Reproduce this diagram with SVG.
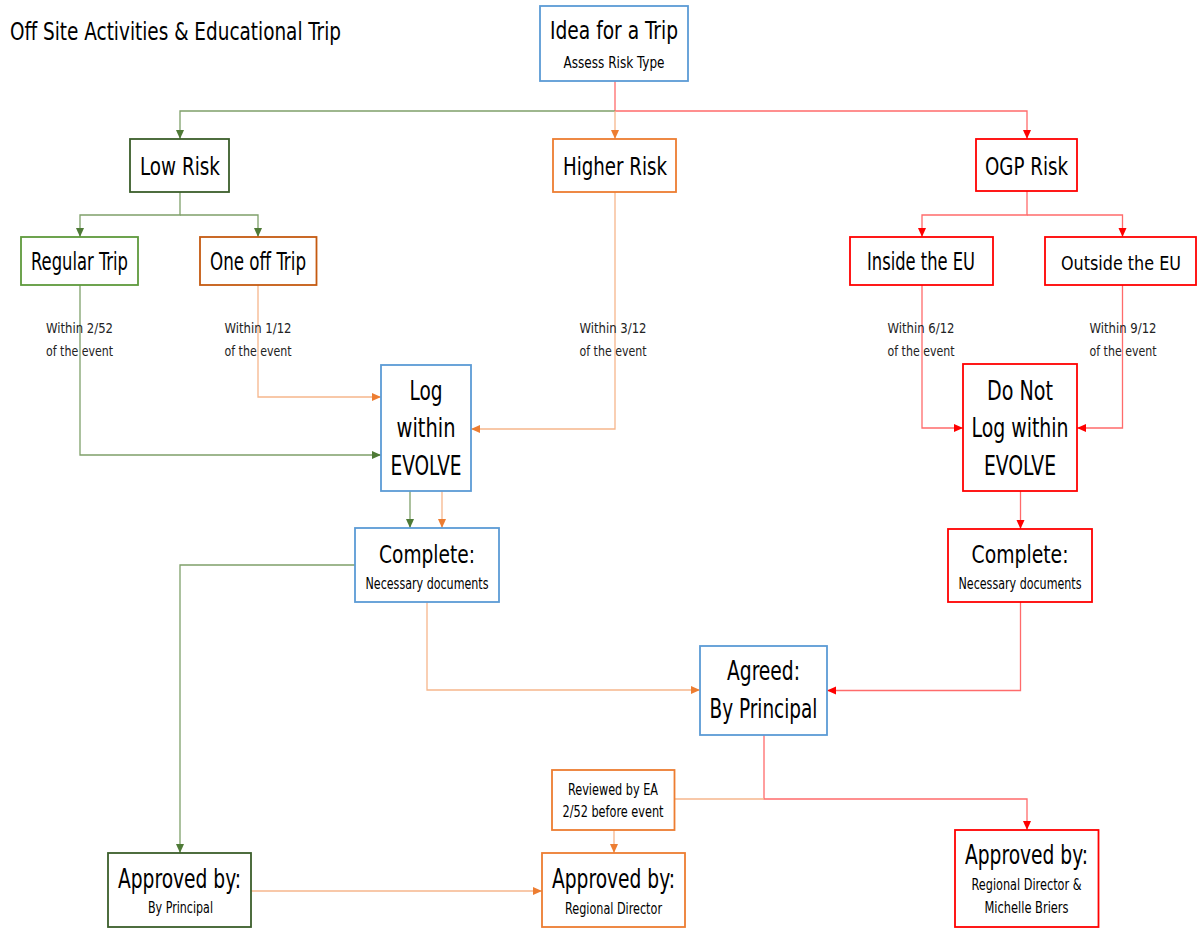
<svg xmlns="http://www.w3.org/2000/svg" width="1198" height="929" viewBox="0 0 1198 929">
<style>
text{font-family:"Liberation Sans Narrow","DejaVu Sans Condensed","Liberation Sans",sans-serif;fill:#000;text-anchor:middle}
.big{font-size:24px}
.sm{font-size:15px}
.lbl{font-size:14px;text-anchor:start;fill:#222}
rect{fill:#fff;stroke-width:1.8}
.blue{stroke:#5B9BD5}
.dg{stroke:#3B5E2B}
.g{stroke:#5E9A3C}
.o{stroke:#ED7D31}
.do{stroke:#C55A11}
.r{stroke:#FF0000}
.c{fill:none;stroke-width:1.3}
.cg{stroke:#7FA06A}
.co{stroke:#F6B68C}
.cr{stroke:#FF6B6B}
</style>
<defs>
<marker id="ag" markerWidth="10" markerHeight="10" refX="9" refY="5" orient="auto" markerUnits="userSpaceOnUse"><path d="M0,1 L9,5 L0,9 Z" fill="#4E7A36"/></marker>
<marker id="ao" markerWidth="10" markerHeight="10" refX="9" refY="5" orient="auto" markerUnits="userSpaceOnUse"><path d="M0,1 L9,5 L0,9 Z" fill="#ED7D31"/></marker>
<marker id="ar" markerWidth="10" markerHeight="10" refX="9" refY="5" orient="auto" markerUnits="userSpaceOnUse"><path d="M0,1 L9,5 L0,9 Z" fill="#FF0000"/></marker>
</defs>

<text x="10" y="40" class="big" style="text-anchor:start" textLength="331" lengthAdjust="spacingAndGlyphs">Off Site Activities &amp; Educational Trip</text>

<g id="connectors">
<path class="c cr" d="M615,81 V111 H1027 V139" marker-end="url(#ar)"/>
<path class="c cg" d="M615,111 H180 V139" marker-end="url(#ag)"/>
<path class="c co" d="M615,111 V139" marker-end="url(#ao)"/>
<path class="c cg" d="M180,192 V215 H80 V237" marker-end="url(#ag)"/>
<path class="c cg" d="M180,215 H258 V237" marker-end="url(#ag)"/>
<path class="c cr" d="M1027,191 V215 H922 V237" marker-end="url(#ar)"/>
<path class="c cr" d="M1027,215 H1122.5 V237" marker-end="url(#ar)"/>
<path class="c cg" d="M80,285 V455 H381" marker-end="url(#ag)"/>
<path class="c co" d="M258,285 V397 H381" marker-end="url(#ao)"/>
<path class="c co" d="M615,192 V429 H471" marker-end="url(#ao)"/>
<path class="c cr" d="M922,285 V428 H963" marker-end="url(#ar)"/>
<path class="c cr" d="M1122.5,285 V428 H1077" marker-end="url(#ar)"/>
<path class="c cg" d="M410,491 V528" marker-end="url(#ag)"/>
<path class="c co" d="M442,491 V528" marker-end="url(#ao)"/>
<path class="c cr" d="M1020.5,491 V529" marker-end="url(#ar)"/>
<path class="c cg" d="M355,565 H180 V853" marker-end="url(#ag)"/>
<path class="c co" d="M427,602 V690 H700" marker-end="url(#ao)"/>
<path class="c cr" d="M1020.5,602 V690.5 H827" marker-end="url(#ar)"/>
<path class="c cr" d="M764,735 V799 H1027 V830" marker-end="url(#ar)"/>
<path class="c co" d="M764,799 H674.5"/>
<path class="c co" d="M614,830 V853" marker-end="url(#ao)"/>
<path class="c co" d="M251,891 H542" marker-end="url(#ao)"/>
</g>

<g id="labels">
<text class="lbl" x="46" y="333" textLength="67" lengthAdjust="spacingAndGlyphs">Within 2/52</text>
<text class="lbl" x="46" y="356" textLength="67" lengthAdjust="spacingAndGlyphs">of the event</text>
<text class="lbl" x="224.5" y="333" textLength="67" lengthAdjust="spacingAndGlyphs">Within 1/12</text>
<text class="lbl" x="224.5" y="356" textLength="67" lengthAdjust="spacingAndGlyphs">of the event</text>
<text class="lbl" x="579.5" y="333" textLength="67" lengthAdjust="spacingAndGlyphs">Within 3/12</text>
<text class="lbl" x="579.5" y="356" textLength="67" lengthAdjust="spacingAndGlyphs">of the event</text>
<text class="lbl" x="887.5" y="333" textLength="67" lengthAdjust="spacingAndGlyphs">Within 6/12</text>
<text class="lbl" x="887.5" y="356" textLength="67" lengthAdjust="spacingAndGlyphs">of the event</text>
<text class="lbl" x="1089.5" y="333" textLength="67" lengthAdjust="spacingAndGlyphs">Within 9/12</text>
<text class="lbl" x="1089.5" y="356" textLength="67" lengthAdjust="spacingAndGlyphs">of the event</text>
</g>

<g id="idea">
<rect class="blue" x="540" y="6" width="148" height="75"/>
<text class="big" x="614" y="39" textLength="128" lengthAdjust="spacingAndGlyphs">Idea for a Trip</text>
<text class="sm" x="614" y="68" textLength="101" lengthAdjust="spacingAndGlyphs">Assess Risk Type</text>
</g>
<g id="low-risk">
<rect class="dg" x="130" y="139" width="99" height="53"/>
<text class="big" x="180" y="175" textLength="80" lengthAdjust="spacingAndGlyphs">Low Risk</text>
</g>
<g id="higher-risk">
<rect class="o" x="553" y="139" width="123" height="53"/>
<text class="big" x="615" y="175" textLength="104" lengthAdjust="spacingAndGlyphs">Higher Risk</text>
</g>
<g id="ogp-risk">
<rect class="r" x="976" y="139" width="101" height="52"/>
<text class="big" x="1026.5" y="175" textLength="83" lengthAdjust="spacingAndGlyphs">OGP Risk</text>
</g>
<g id="regular-trip">
<rect class="g" x="21" y="237" width="117" height="48"/>
<text class="big" x="79.5" y="270" textLength="97" lengthAdjust="spacingAndGlyphs">Regular Trip</text>
</g>
<g id="one-off-trip">
<rect class="do" x="200" y="237" width="116.5" height="48"/>
<text class="big" x="258" y="270" textLength="96" lengthAdjust="spacingAndGlyphs">One off Trip</text>
</g>
<g id="inside-eu">
<rect class="r" x="850" y="237" width="143" height="48"/>
<text class="big" x="921" y="270" textLength="108" lengthAdjust="spacingAndGlyphs">Inside the EU</text>
</g>
<g id="outside-eu">
<rect class="r" x="1045" y="237" width="151" height="48"/>
<text class="big" x="1121" y="270" textLength="120" lengthAdjust="spacingAndGlyphs" style="font-size:19px">Outside the EU</text>
</g>
<g id="log-evolve">
<rect class="blue" x="381" y="365" width="90" height="126"/>
<text class="big" x="426" y="400" textLength="33" lengthAdjust="spacingAndGlyphs" style="font-size:26px">Log</text>
<text class="big" x="426" y="437" textLength="59" lengthAdjust="spacingAndGlyphs" style="font-size:26px">within</text>
<text class="big" x="426" y="475" textLength="71" lengthAdjust="spacingAndGlyphs" style="font-size:26px">EVOLVE</text>
</g>
<g id="do-not-log">
<rect class="r" x="963" y="364" width="114" height="127"/>
<text class="big" x="1020" y="400" textLength="66" lengthAdjust="spacingAndGlyphs" style="font-size:26px">Do Not</text>
<text class="big" x="1020" y="437" textLength="97" lengthAdjust="spacingAndGlyphs" style="font-size:26px">Log within</text>
<text class="big" x="1020" y="475" textLength="72" lengthAdjust="spacingAndGlyphs" style="font-size:26px">EVOLVE</text>
</g>
<g id="complete-blue">
<rect class="blue" x="355" y="528" width="144" height="74"/>
<text class="big" x="427" y="563" textLength="96" lengthAdjust="spacingAndGlyphs" style="font-size:25px">Complete:</text>
<text class="sm" x="427" y="589" textLength="123" lengthAdjust="spacingAndGlyphs">Necessary documents</text>
</g>
<g id="complete-red">
<rect class="r" x="948" y="529" width="144" height="73"/>
<text class="big" x="1020" y="563" textLength="97" lengthAdjust="spacingAndGlyphs" style="font-size:25px">Complete:</text>
<text class="sm" x="1020" y="589" textLength="123" lengthAdjust="spacingAndGlyphs">Necessary documents</text>
</g>
<g id="agreed">
<rect class="blue" x="700" y="646" width="127" height="89"/>
<text class="big" x="763.5" y="680" textLength="73" lengthAdjust="spacingAndGlyphs" style="font-size:26px">Agreed:</text>
<text class="big" x="763.5" y="718" textLength="108" lengthAdjust="spacingAndGlyphs" style="font-size:26px">By Principal</text>
</g>
<g id="reviewed">
<rect class="o" x="552" y="770" width="122.5" height="60"/>
<text class="sm" x="613" y="795" textLength="90" lengthAdjust="spacingAndGlyphs">Reviewed by EA</text>
<text class="sm" x="613" y="817" textLength="101" lengthAdjust="spacingAndGlyphs">2/52 before event</text>
</g>
<g id="approved-principal">
<rect class="dg" x="108" y="853" width="143" height="74"/>
<text class="big" x="179.5" y="888" textLength="123" lengthAdjust="spacingAndGlyphs" style="font-size:26px">Approved by:</text>
<text class="sm" x="180.5" y="913" textLength="65" lengthAdjust="spacingAndGlyphs">By Principal</text>
</g>
<g id="approved-rd">
<rect class="o" x="542" y="853" width="143" height="74"/>
<text class="big" x="613.5" y="888" textLength="123" lengthAdjust="spacingAndGlyphs" style="font-size:26px">Approved by:</text>
<text class="sm" x="613.5" y="914" textLength="97" lengthAdjust="spacingAndGlyphs">Regional Director</text>
</g>
<g id="approved-rd-mb">
<rect class="r" x="955" y="830" width="143.5" height="97"/>
<text class="big" x="1026.5" y="864" textLength="123" lengthAdjust="spacingAndGlyphs" style="font-size:26px">Approved by:</text>
<text class="sm" x="1026.5" y="890" textLength="110" lengthAdjust="spacingAndGlyphs">Regional Director &amp;</text>
<text class="sm" x="1026.5" y="913" textLength="84" lengthAdjust="spacingAndGlyphs">Michelle Briers</text>
</g>
</svg>
